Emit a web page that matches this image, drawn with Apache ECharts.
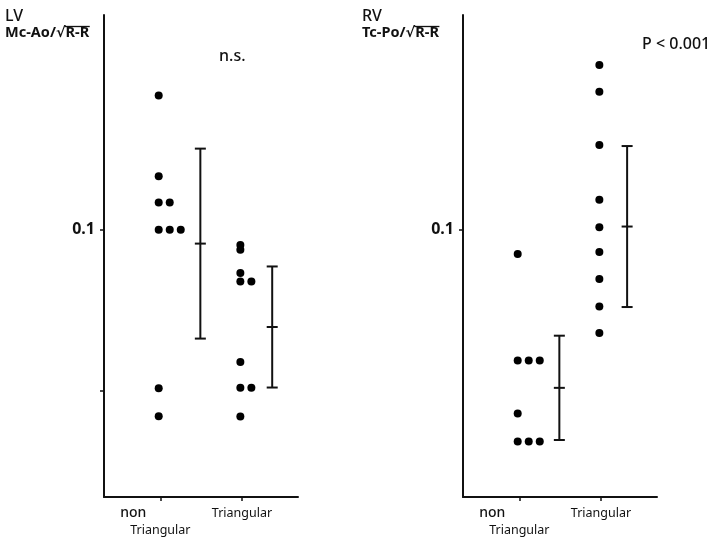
<!DOCTYPE html>
<html><head><meta charset="utf-8">
<script src="https://cdn.jsdelivr.net/npm/echarts@6/dist/echarts.min.js"></script>
<style>html,body{margin:0;padding:0;background:#fff}#c{width:715px;height:541px}</style>
</head><body><div id="c"></div>
<script>
// ---- data ----
const groups = ['non Triangular', 'Triangular'];
const lvNon = [0.1417, 0.1166, 0.1085, 0.1085, 0.100, 0.100, 0.100, 0.0508, 0.0421];
const lvTri = [0.0953, 0.0938, 0.0866, 0.0839, 0.0839, 0.0589, 0.0509, 0.0509, 0.0420];
const rvNon = [0.0925, 0.0594, 0.0594, 0.0594, 0.0429, 0.0342, 0.0342, 0.0342];
const rvTri = [0.1512, 0.1429, 0.1263, 0.1093, 0.1008, 0.0931, 0.0847, 0.0762, 0.0679];
const lvMean = [0.0957, 0.0698];
const lvSD = [0.0295, 0.0188];
const rvMean = [0.0509, 0.1010];
const rvSD = [0.0162, 0.0250];
const yLabelValues = [0.1];
const lvTickValues = [0.05, 0.1];
const rvTickValues = [0.1];

// ---- layout / style ----
const FONT = '"Noto Sans", "DejaVu Sans", sans-serif';
const dotOffset = -0.02, dotSpacing = 0.135;
const barOffsetLV = [0.49, 0.37];
const barOffsetRV = [0.49, 0.32];

function dotsFor(values, gi) {
  const out = [];
  let k = 0;
  values.forEach((v, i) => {
    k = (i > 0 && values[i - 1] === v) ? k + 1 : 0;
    out.push([gi + dotOffset + k * dotSpacing, v]);
  });
  return out;
}
function barsFor(means, sds, offs) {
  return means.map((m, i) => [i + offs[i], m, sds[i]]);
}
function errRender(params, api) {
  const x = api.value(0), m = api.value(1), s = api.value(2);
  const t = api.coord([x, m + s]), c = api.coord([x, m]), b = api.coord([x, m - s]);
  const hw = 5.5;
  const st = { stroke: '#111', lineWidth: 2 };
  const ln = (x1, y1, x2, y2) => ({ type: 'line', shape: { x1, y1, x2, y2 }, style: st });
  return { type: 'group', children: [
    ln(t[0], t[1], b[0], b[1]),
    ln(t[0] - hw, t[1], t[0] + hw, t[1]),
    ln(c[0] - hw, c[1], c[0] + hw, c[1]),
    ln(b[0] - hw, b[1], b[0] + hw, b[1])
  ]};
}

function xAxisFor(gridIndex) {
  return {
    type: 'value', gridIndex, min: -0.69, max: 1.686,
    splitLine: { show: false },
    axisLine: { onZero: false, lineStyle: { color: '#111', width: 2 } },
    axisTick: { customValues: [0, 1], length: 4, lineStyle: { color: '#111', width: 1.5 } },
    axisLabel: {
      customValues: [0, 1], margin: 8, color: '#111', fontFamily: FONT, fontSize: 12,
      formatter: v => v === 0 ? '{a|non}\n{b|Triangular}' : '{b|Triangular}',
      rich: {
        a: { fontFamily: FONT, fontSize: 14, fontWeight: 500, color: '#111', padding: [0, 54, 0, 0], lineHeight: 17 },
        b: { fontFamily: FONT, fontSize: 12.5, color: '#111', lineHeight: 17 }
      }
    }
  };
}
function yAxisFor(gridIndex, ticks) {
  return {
    type: 'value', gridIndex, min: 0.017, max: 0.1667,
    splitLine: { show: false },
    axisLine: { onZero: false, lineStyle: { color: '#111', width: 2 } },
    axisTick: { customValues: ticks, length: 4, lineStyle: { color: '#111', width: 1.5 } },
    axisLabel: { customValues: yLabelValues, margin: 9, color: '#111', fontFamily: FONT,
      fontSize: 16, fontWeight: 'bold', formatter: v => String(v) }
  };
}

// overline for the square-root sign, derived from measured text width
const ctx = document.createElement('canvas').getContext('2d');
const LBL_FONT = 'bold 14.5px ' + FONT;
function radicalLabel(x, y, text, radicand) {
  ctx.font = LBL_FONT;
  const full = ctx.measureText(text).width;
  const pre = ctx.measureText(text.slice(0, text.length - radicand.length)).width;
  return [
    { type: 'text', x, y, style: { text, font: LBL_FONT, fill: '#111', textVerticalAlign: 'top' } },
    { type: 'line', shape: { x1: x + pre - 1, y1: y + 1.5, x2: x + full + 0.5, y2: y + 1.5 },
      style: { stroke: '#111', lineWidth: 1.3 } }
  ];
}

const dotStyle = { color: '#000', opacity: 1 };
const chart = echarts.init(document.getElementById('c'), null, { renderer: 'canvas' });
chart.setOption({
  animation: false,
  backgroundColor: '#fff',
  grid: [
    { left: 104, top: 15, width: 194, height: 482 },
    { left: 463, top: 15, width: 194, height: 482 }
  ],
  xAxis: [xAxisFor(0), xAxisFor(1)],
  yAxis: [yAxisFor(0, lvTickValues), yAxisFor(1, rvTickValues)],
  series: [
    { type: 'scatter', xAxisIndex: 0, yAxisIndex: 0, symbolSize: 8, itemStyle: dotStyle, data: dotsFor(lvNon, 0) },
    { type: 'scatter', xAxisIndex: 0, yAxisIndex: 0, symbolSize: 8, itemStyle: dotStyle, data: dotsFor(lvTri, 1) },
    { type: 'scatter', xAxisIndex: 1, yAxisIndex: 1, symbolSize: 8, itemStyle: dotStyle, data: dotsFor(rvNon, 0) },
    { type: 'scatter', xAxisIndex: 1, yAxisIndex: 1, symbolSize: 8, itemStyle: dotStyle, data: dotsFor(rvTri, 1) },
    { type: 'custom', xAxisIndex: 0, yAxisIndex: 0, renderItem: errRender, data: barsFor(lvMean, lvSD, barOffsetLV), z: 3 },
    { type: 'custom', xAxisIndex: 1, yAxisIndex: 1, renderItem: errRender, data: barsFor(rvMean, rvSD, barOffsetRV), z: 3 }
  ],
  graphic: [
    { type: 'text', left: 5, top: 8, style: { text: 'LV', font: '500 16px ' + FONT, fill: '#111' } },
    ...radicalLabel(5, 25, 'Mc-Ao/√R-R', 'R-R'),
    { type: 'text', left: 362, top: 8, style: { text: 'RV', font: '500 16px ' + FONT, fill: '#111' } },
    ...radicalLabel(362, 25, 'Tc-Po/√R-R', 'R-R'),
    { type: 'text', left: 219, top: 48, style: { text: 'n.s.', font: '500 16px ' + FONT, fill: '#111' } },
    { type: 'text', left: 642, top: 36, style: { text: 'P < 0.001', font: '500 16px ' + FONT, fill: '#111' } }
  ]
});
</script></body></html>
